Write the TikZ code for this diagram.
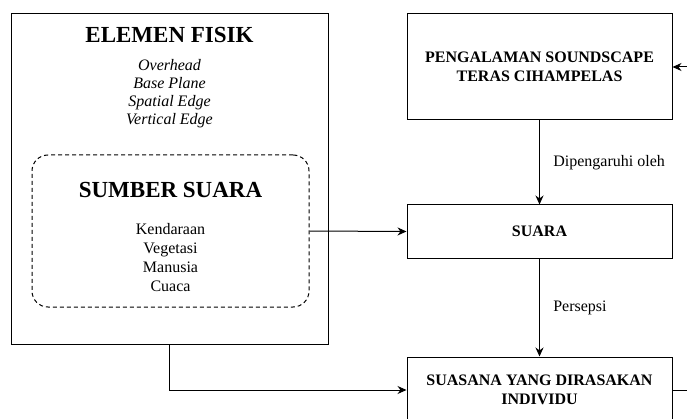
\documentclass[tikz,border=0pt]{standalone}
\usepackage{fontspec}
\setmainfont{Liberation Serif}
\usetikzlibrary{arrows, arrows.meta}
\tikzstyle{kotak} = [rectangle, draw, line width=1pt, text centered, align=center, font=\fontsize{16}{19}\selectfont\bfseries]
\tikzstyle{putus} = [rectangle, draw, line width=1pt, dash pattern=on 4pt off 3pt, rounded corners=16pt]
\tikzstyle{judul} = [font=\fontsize{23}{27}\selectfont\bfseries]
\tikzstyle{daftar} = [align=center, font=\fontsize{16}{19}\selectfont]
\tikzstyle{ket} = [font=\fontsize{16}{19}\selectfont, anchor=west]
\tikzstyle{arrow} = [line width=1pt,-{Stealth[length=9pt,width=8pt]}]

\begin{document}
\begin{tikzpicture}[x=1pt, y=1pt]
            \useasboundingbox (0,0) rectangle (687,418);
            \clip (0,0) rectangle (687,418);
            \node [kotak, minimum width=317pt, minimum height=330pt] at (169.5,239) (elemen) {};
            \node [judul] at (169.5,383) (elemenjudul) {ELEMEN FISIK};
            \node [daftar, font=\fontsize{16}{18}\selectfont\itshape] at (169.5,324) (elemenisi) {Overhead\\Base Plane\\Spatial Edge\\Vertical Edge};
            \node [putus, minimum width=277pt, minimum height=152pt] at (170.5,187) (sumber) {};
            \node [judul] at (170.5,228) (sumberjudul) {SUMBER SUARA};
            \node [daftar] at (170.5,160) (sumberisi) {Kendaraan\\Vegetasi\\Manusia\\Cuaca};
            \node [kotak, minimum width=265pt, minimum height=106pt] at (539.5,351) (pengalaman) {PENGALAMAN SOUNDSCAPE\\TERAS CIHAMPELAS};
            \node [kotak, minimum width=265pt, minimum height=53pt] at (539.5,186.5) (suara) {SUARA};
            \node [kotak, minimum width=265pt, minimum height=66pt] at (539.5,28) (suasana) {SUASANA YANG DIRASAKAN\\INDIVIDU};
            \coordinate (balik) at (695,28);
            \draw [arrow] (pengalaman) -- node[ket, xshift=10pt] {Dipengaruhi oleh} (suara);
            \draw [arrow] (suara) -- node[ket, xshift=10pt] {Persepsi} (suasana);
            \draw [arrow] (sumber.east) -- (suara.west);
            \draw [arrow] (elemen.south) |- (suasana.west);
            \draw [arrow] (suasana.east) -- (balik) |- (pengalaman.east);
            \end{tikzpicture}
\end{document}
